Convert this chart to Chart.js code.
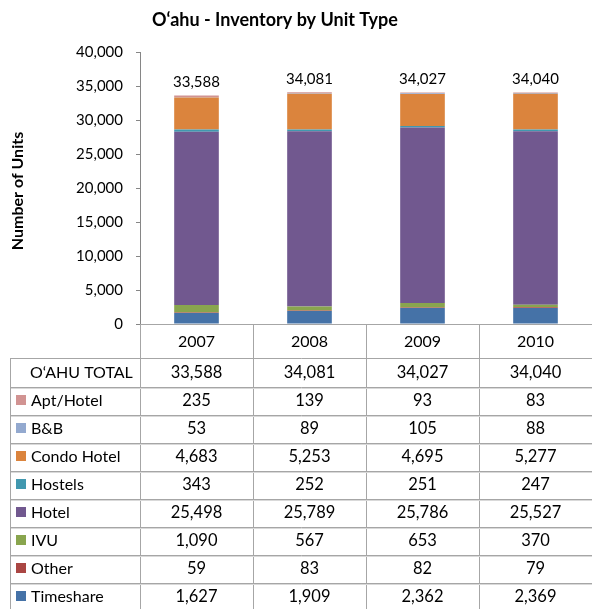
<!DOCTYPE html>
<html>
<head>
<meta charset="utf-8">
<script src="https://cdn.jsdelivr.net/npm/chart.js@4"></script>
<style>
  html, body { margin: 0; padding: 0; background: #fff; }
  #wrap { width: 592px; height: 609px; position: relative; }
</style>
</head>
<body>
<div id="wrap"><canvas id="chart"></canvas></div>
<script>
const years = ['2007', '2008', '2009', '2010'];
const totals = [33588, 34081, 34027, 34040];

// stacked bottom -> top
const timeshare = [1627, 1909, 2362, 2369];
const other = [59, 83, 82, 79];
const ivu = [1090, 567, 653, 370];
const hotel = [25498, 25789, 25786, 25527];
const hostels = [343, 252, 251, 247];
const condoHotel = [4683, 5253, 4695, 5277];
const bnb = [53, 89, 105, 88];
const aptHotel = [235, 139, 93, 83];

const yTicks = [0, 5000, 10000, 15000, 20000, 25000, 30000, 35000, 40000];

const series = [
  { label: 'Timeshare', data: timeshare, color: '#4572A7' },
  { label: 'Other', data: other, color: '#AA4643' },
  { label: 'IVU', data: ivu, color: '#89A54E' },
  { label: 'Hotel', data: hotel, color: '#71588F' },
  { label: 'Hostels', data: hostels, color: '#4198AF' },
  { label: 'Condo Hotel', data: condoHotel, color: '#DB843D' },
  { label: 'B&B', data: bnb, color: '#93A9CF' },
  { label: 'Apt/Hotel', data: aptHotel, color: '#D19392' },
];

const FONT = 'Lato, "Open Sans", sans-serif';
Chart.defaults.font.family = FONT;
Chart.defaults.color = '#000';

const fmt = v => Number(v).toLocaleString('en-US');

// title, axis title, totals and the data table under the plot
const extras = {
  id: 'extras',
  afterDraw(chart) {
    const ctx = chart.ctx;
    const x = chart.scales.x, y = chart.scales.y;
    const area = chart.chartArea;
    ctx.save();

    ctx.fillStyle = '#000';
    ctx.font = 'bold 18px ' + FONT;
    ctx.textAlign = 'center';
    ctx.textBaseline = 'middle';
    ctx.fillText('O\u2018ahu - Inventory by Unit Type', 275, 20);

    ctx.save();
    ctx.translate(18, 191);
    ctx.rotate(-Math.PI / 2);
    ctx.font = 'bold 16px ' + FONT;
    ctx.fillText('Number of Units', 0, 0);
    ctx.restore();

    // totals above bars
    ctx.font = '15px ' + FONT;
    ctx.textBaseline = 'bottom';
    totals.forEach((t, i) => {
      ctx.fillText(fmt(t), x.getPixelForValue(i), y.getPixelForValue(t) - 6);
    });

    // table
    const top = area.bottom;
    const yearBottom = top + 34;
    const rowH = 28;
    const rows = [{ label: "O\u2018AHU TOTAL", data: totals }].concat(series.slice().reverse());
    const tableBottom = yearBottom + 1 + rows.length * rowH + 10;
    const half = (x.getPixelForValue(1) - x.getPixelForValue(0)) / 2;
    const right = x.getPixelForValue(years.length - 1) + half;

    ctx.strokeStyle = '#a6a6a6';
    ctx.lineWidth = 1;
    ctx.beginPath();
    ctx.moveTo(area.left, top + 0.5); ctx.lineTo(right, top + 0.5);
    ctx.moveTo(10.5, yearBottom + 0.5); ctx.lineTo(right, yearBottom + 0.5);
    for (let r = 1; r < rows.length; r++) {
      const ly = yearBottom + 1 + r * rowH + 0.5;
      ctx.moveTo(10.5, ly); ctx.lineTo(right, ly);
    }
    ctx.moveTo(10.5, yearBottom); ctx.lineTo(10.5, tableBottom);
    ctx.moveTo(area.left + 0.5, top); ctx.lineTo(area.left + 0.5, tableBottom);
    for (let i = 0; i < years.length; i++) {
      const cx = Math.round(x.getPixelForValue(i) + half) + 0.5;
      ctx.moveTo(cx, top); ctx.lineTo(cx, tableBottom);
    }
    ctx.stroke();

    // lighter second line under each row rule
    ctx.strokeStyle = '#d9d9d9';
    ctx.beginPath();
    for (let r = 1; r < rows.length; r++) {
      const ly = yearBottom + 1 + r * rowH + 1.5;
      ctx.moveTo(11, ly); ctx.lineTo(right, ly);
    }
    ctx.stroke();

    ctx.textBaseline = 'middle';
    ctx.textAlign = 'center';
    ctx.font = '16px ' + FONT;
    years.forEach((yr, i) => ctx.fillText(yr, x.getPixelForValue(i), (top + yearBottom) / 2 + 1));

    rows.forEach((row, r) => {
      const cy = yearBottom + 1 + r * rowH + rowH / 2;
      ctx.textAlign = 'left';
      ctx.font = '16px ' + FONT;
      if (r === 0) {
        ctx.fillText(row.label, 30, cy);
      } else {
        ctx.fillStyle = row.color;
        ctx.fillRect(16, cy - 6, 10, 10);
        ctx.fillStyle = '#000';
        ctx.fillText(row.label, 31, cy);
      }
      ctx.textAlign = 'center';
      ctx.font = '16.5px ' + FONT;
      row.data.forEach((v, i) => ctx.fillText(fmt(v), x.getPixelForValue(i), cy));
    });

    ctx.restore();
  }
};

new Chart(document.getElementById('chart'), {
  type: 'bar',
  data: {
    labels: years,
    datasets: series.map(s => ({
      label: s.label,
      data: s.data,
      backgroundColor: s.color,
      borderWidth: 0,
      barPercentage: 0.395,
      categoryPercentage: 1,
    }))
  },
  options: {
    responsive: true,
    maintainAspectRatio: false,
    animation: false,
    layout: { padding: { top: 52, bottom: 285, left: 0, right: -4 } },
    plugins: { legend: { display: false }, tooltip: { enabled: false }, title: { display: false } },
    scales: {
      x: { stacked: true, display: false },
      y: {
        stacked: true,
        min: 0, max: 40000,
        afterBuildTicks: s => { s.ticks = yTicks.map(v => ({ value: v })); },
        afterFit: s => { s.width = 140; },
        grid: { drawOnChartArea: false, drawTicks: true, tickLength: 4, color: '#868686' },
        border: { color: '#868686' },
        ticks: { padding: 13, font: { size: 15 }, color: '#000', callback: v => fmt(v) }
      }
    }
  },
  plugins: [extras]
});
</script>
</body>
</html>
